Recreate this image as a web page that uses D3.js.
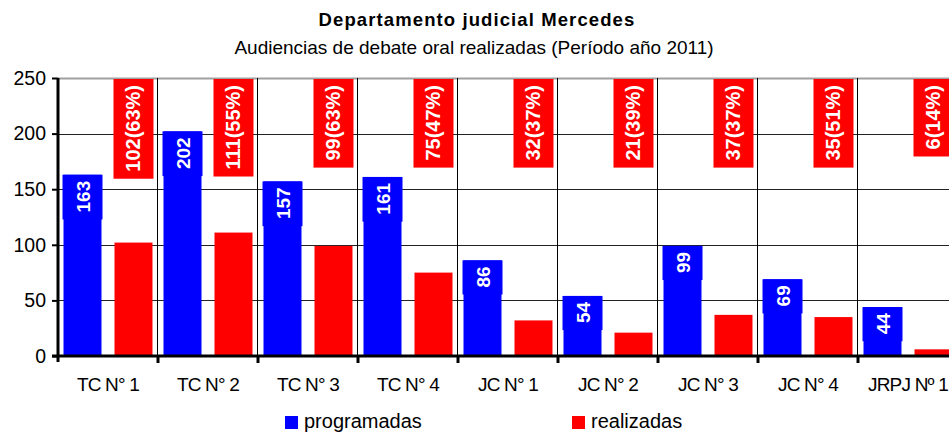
<!DOCTYPE html>
<html>
<head>
<meta charset="utf-8">
<script src="https://cdn.jsdelivr.net/npm/d3@7"></script>
<style>
  body { margin: 0; background: #fff; overflow: hidden; }
  svg { font-family: "Liberation Sans", Arial, sans-serif; display: block; }
</style>
</head>
<body>
<div id="chart"></div>
<script>
// data
const categories = ["TC N° 1", "TC N° 2", "TC N° 3", "TC N° 4", "JC N° 1", "JC N° 2", "JC N° 3", "JC N° 4", "JRPJ Nº 1"];
const programadas = [163, 202, 157, 161, 86, 54, 99, 69, 44];
const realizadas = [102, 111, 99, 75, 32, 21, 37, 35, 6];
const porcentajes = [63, 55, 63, 47, 37, 39, 37, 51, 14];
const seriesNames = ["programadas", "realizadas"];
const seriesColors = ["#0000ff", "#ff0000"];
const yTicks = [0, 50, 100, 150, 200, 250];

const width = 949, height = 433;
const margin = { left: 58, top: 78, bottom: 77 };
const plotBottom = height - margin.bottom;

const svg = d3.select("#chart").append("svg")
    .attr("width", width)
    .attr("height", height);

// titles
svg.append("text")
    .attr("x", 477).attr("y", 26)
    .attr("text-anchor", "middle")
    .style("font-size", "18.5px")
    .style("font-weight", "bold")
    .style("letter-spacing", "1.1px")
    .text("Departamento judicial Mercedes");
svg.append("text")
    .attr("x", 474).attr("y", 54)
    .attr("text-anchor", "middle")
    .style("font-size", "19px")
    .text("Audiencias de debate oral realizadas (Período año 2011)");

// scales
const x = d3.scaleBand()
    .domain(categories)
    .range([margin.left, margin.left + 100 * categories.length])
    .paddingInner(0).paddingOuter(0);

const x1 = d3.scaleBand()
    .domain(seriesNames)
    .range([0, x.bandwidth()])
    .paddingInner(0.255)
    .paddingOuter(0.108);

const y = d3.scaleLinear().domain([0, 250]).range([plotBottom, margin.top]);

const color = d3.scaleOrdinal().domain(seriesNames).range(seriesColors);

// gridlines
svg.append("g")
    .selectAll("line")
    .data(yTicks.filter((d) => d > 0))
    .join("line")
    .attr("x1", margin.left).attr("x2", width)
    .attr("y1", (d) => Math.round(y(d)) + 0.5)
    .attr("y2", (d) => Math.round(y(d)) + 0.5)
    .attr("stroke", (d) => (d === 250 ? "#a0a0a0" : "#222"))
    .attr("stroke-width", (d) => (d === 250 ? 2 : 1));

svg.append("g")
    .selectAll("line")
    .data(categories.slice(1))
    .join("line")
    .attr("x1", (d) => Math.round(x(d)) - 0.5)
    .attr("x2", (d) => Math.round(x(d)) - 0.5)
    .attr("y1", margin.top)
    .attr("y2", plotBottom)
    .attr("stroke", "#000")
    .attr("stroke-width", 1);

// bars
const rows = categories.map((c, i) => ({
    cat: c,
    values: [
        { key: "programadas", value: programadas[i] },
        { key: "realizadas", value: realizadas[i], pct: porcentajes[i] },
    ],
}));

const groups = svg.append("g")
    .selectAll("g")
    .data(rows)
    .join("g")
    .attr("transform", (d) => `translate(${x(d.cat)},0)`);

groups.selectAll("rect")
    .data((d) => d.values)
    .join("rect")
    .attr("x", (d) => x1(d.key))
    .attr("width", x1.bandwidth())
    .attr("y", (d) => y(d.value))
    .attr("height", (d) => plotBottom - y(d.value))
    .attr("fill", (d) => color(d.key));

// value labels (rotated, in coloured boxes)
groups.each(function (d) {
    const g = d3.select(this);
    d.values.forEach((v) => {
        const isProg = v.key === "programadas";
        const lbl = isProg ? String(v.value) : `${v.value}(${v.pct}%)`;
        const box = g.append("rect").attr("fill", color(v.key));
        const t = g.append("text")
            .attr("fill", "#fff")
            .style("font-size", isProg ? "19px" : "20px")
            .style("font-weight", "bold")
            .text(lbl);
        const len = t.node().getComputedTextLength();
        const bx = x1(v.key) - 1;
        const bw = x1.bandwidth() + 2;
        const top = isProg ? y(v.value) : 79;
        const bh = len + 13;
        box.attr("x", bx).attr("y", top).attr("width", bw).attr("height", bh);
        t.attr("transform", `translate(${bx + bw / 2 + 7},${top + bh - 7}) rotate(-90)`);
    });
});

// axes
const yAxis = svg.append("g")
    .attr("transform", `translate(${margin.left},0)`)
    .call(d3.axisLeft(y).tickValues(yTicks).tickSize(6).tickPadding(6));
yAxis.select(".domain").attr("stroke", "#000").attr("stroke-width", 3)
    .attr("d", `M0,${margin.top}V${plotBottom + 6}`);
yAxis.selectAll(".tick line").attr("stroke", "#000").attr("stroke-width", 2);
yAxis.selectAll(".tick text")
    .style("font-size", "19.5px")
    .style("font-family", "'Liberation Sans', Arial, sans-serif")
    .attr("fill", "#000");

const xAxis = svg.append("g")
    .attr("transform", `translate(0,${plotBottom})`);
xAxis.append("line")
    .attr("x1", margin.left - 6).attr("x2", width)
    .attr("y1", 0).attr("y2", 0)
    .attr("stroke", "#000").attr("stroke-width", 3);
xAxis.selectAll("line.tk")
    .data(categories.slice(1))
    .join("line")
    .attr("class", "tk")
    .attr("x1", (d) => x(d)).attr("x2", (d) => x(d))
    .attr("y1", 0).attr("y2", 7)
    .attr("stroke", "#000").attr("stroke-width", 3);
xAxis.selectAll("text")
    .data(categories)
    .join("text")
    .attr("x", (d) => x(d) + x.bandwidth() / 2)
    .attr("y", 35)
    .attr("text-anchor", "middle")
    .style("font-size", "19px")
    .style("letter-spacing", "-0.8px")
    .text((d) => d);

// legend
const legend = svg.append("g");
const legendX = [285, 572];
seriesNames.forEach((s, i) => {
    legend.append("rect")
        .attr("x", legendX[i]).attr("y", 416)
        .attr("width", 13).attr("height", 13)
        .attr("fill", color(s));
    legend.append("text")
        .attr("x", legendX[i] + 19).attr("y", 428)
        .style("font-size", "20px")
        .text(s);
});
</script>
</body>
</html>
